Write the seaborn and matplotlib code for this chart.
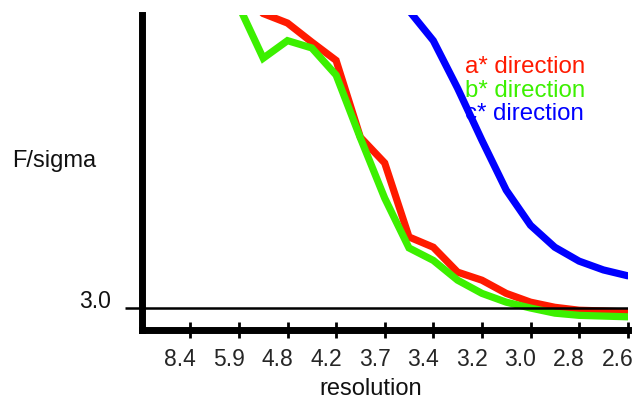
import numpy as np
import pandas as pd
import matplotlib
matplotlib.use("Agg")
import matplotlib.pyplot as plt
import seaborn as sns
import matplotlib.transforms as mtransforms

# ---- data ----
tick_labels = ["8.4", "5.9", "4.8", "4.2", "3.7", "3.4", "3.2", "3.0", "2.8", "2.6"]
tick_pos = [1, 2, 3, 4, 5, 6, 7, 8, 9, 10]

a_x = [2.0, 2.5, 3.0, 3.5, 4.0, 4.5, 5.0, 5.5, 6.0, 6.5, 7.0, 7.5, 8.0, 8.5, 9.0, 9.5, 10.0]
a_y = [46.4, 43.2, 41.9, 39.3, 36.8, 26.3, 22.8, 12.7, 11.3, 7.9, 6.8, 5.0, 3.8, 3.1, 2.7, 2.6, 2.45]

b_x = [2.0, 2.5, 3.0, 3.5, 4.0, 4.5, 5.0, 5.5, 6.0, 6.5, 7.0, 7.5, 8.0, 8.5, 9.0, 9.5, 10.0]
b_y = [44.2, 37.1, 39.5, 38.5, 34.8, 26.2, 18.0, 11.2, 9.5, 6.8, 5.0, 3.8, 3.0, 2.3, 2.0, 1.9, 1.8]

c_x = [5.0, 5.5, 6.0, 6.5, 7.0, 7.5, 8.0, 8.5, 9.0, 9.5, 10.0]
c_y = [50.4, 43.6, 39.5, 33.0, 25.9, 19.1, 14.3, 11.3, 9.4, 8.2, 7.4]

series_names = ["a* direction", "b* direction", "c* direction"]
series_colors = ["#ff1a00", "#3cf000", "#0000ff"]
threshold = 3.0

df = pd.concat([
    pd.DataFrame({"x": a_x, "y": a_y, "dir": series_names[0]}),
    pd.DataFrame({"x": b_x, "y": b_y, "dir": series_names[1]}),
    pd.DataFrame({"x": c_x, "y": c_y, "dir": series_names[2]}),
], ignore_index=True)

sns.set_style("white")
plt.rcParams["font.family"] = ["Liberation Sans", "DejaVu Sans"]

fig = plt.figure(figsize=(6.39, 3.99), dpi=100)
ax = fig.add_axes([141.7 / 639, (399 - 330) / 399, (627.7 - 141.7) / 639, (330 - 15) / 399])

sns.lineplot(data=df, x="x", y="y", hue="dir", hue_order=series_names,
             palette=dict(zip(series_names, series_colors)), linewidth=5.2,
             legend=False, ax=ax, sort=False, estimator=None)
for ln in ax.get_lines():
    ln.set_solid_joinstyle("miter")

ax.axhline(threshold, color="black", lw=1.8, zorder=5)

ax.set_xlim(0, 10)
ax.set_ylim(0, 43.0)

for s in ["top", "right"]:
    ax.spines[s].set_visible(False)
for s in ["left", "bottom"]:
    ax.spines[s].set_linewidth(5)
    ax.spines[s].set_color("black")
    ax.spines[s].set_capstyle("projecting")
    ax.spines[s].set_zorder(6)

ax.set_xticks(tick_pos)
ax.set_xticklabels(tick_labels, fontsize=16.5)
ax.tick_params(axis="x", direction="inout", length=11.5, width=2, color="black", pad=7,
               bottom=True)
shift = mtransforms.ScaledTranslation(-10 / 100, 0, fig.dpi_scale_trans)
for lab in ax.get_xticklabels():
    lab.set_transform(lab.get_transform() + shift)
ax.set_yticks([threshold])
ax.set_yticklabels([])
ax.tick_params(axis="y", direction="out", length=12, width=1.8, color="black", left=True)
ax.set_xlabel("")
ax.set_ylabel("")

trans = mtransforms.blended_transform_factory(ax.transAxes, ax.transData)
ax.text(-0.064, threshold, "3.0", transform=trans, ha="right", va="baseline",
        fontsize=16.5, color="#111111")

fig.text(12 / 639, (399 - 161) / 399, "F/sigma", ha="left", va="center",
         fontsize=17, color="#111111")
fig.text(371 / 639, (399 - 389) / 399, "resolution", ha="center", va="center",
         fontsize=17, color="#111111")

baselines = [73, 97, 120]
for name, col, b in zip(series_names, series_colors, baselines):
    fig.text(465 / 639, (399 - b) / 399, name, ha="left", va="baseline",
             fontsize=17.3, color=col)

fig.savefig("out.png", dpi=100)
